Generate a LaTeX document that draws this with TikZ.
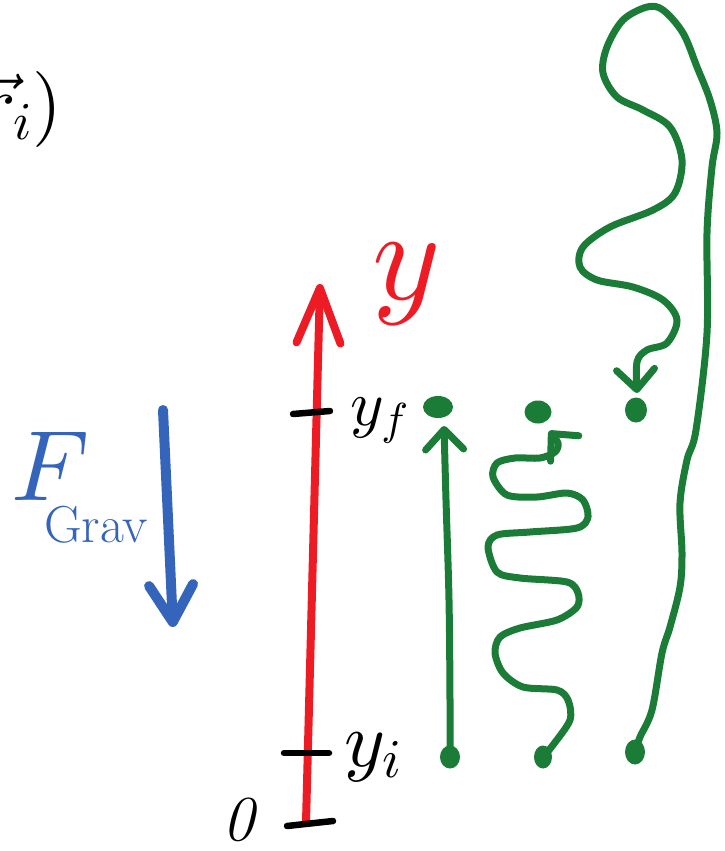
\documentclass[tikz,border=0pt]{standalone}
\DeclareFontShape{OML}{cmm}{m}{it}{<->cmmi10}{}
\DeclareFontShape{OMS}{cmsy}{m}{n}{<->cmsy10}{}
\DeclareFontFamily{OT1}{cmr}{\hyphenchar\font45 }
\DeclareFontShape{OT1}{cmr}{m}{n}{<->cmr10}{}
\usetikzlibrary{arrows.meta,shapes.geometric}
\definecolor{axred}{RGB}{237,28,36}
\definecolor{gblue}{RGB}{52,101,186}
\definecolor{pgreen}{RGB}{27,124,55}
\begin{document}
\begin{tikzpicture}[x=1pt,y=-1pt,
  hand/.style={line cap=round,line join=round},
  redaxis/.style={hand,axred,line width=8pt,-{Straight Barb[length=55pt,width=44pt,round]}},
  gravarrow/.style={hand,gblue,line width=10pt,-{Straight Barb[length=37pt,width=44pt,round]}},
  tickmark/.style={hand,black,line width=6.5pt},
  gpath/.style={hand,pgreen,line width=7pt,-{Straight Barb[length=20pt,width=38pt,round]}},
  gdot/.style={ellipse,fill=pgreen,inner sep=0pt},
  lbl/.style={inner sep=0pt,outer sep=0pt}]
\useasboundingbox (0,0) rectangle (724,851);

% partial formula at top left
\node[lbl,anchor=base east] (formula) at (62,128) {\fontsize{76}{80}\selectfont$\vec{r}_i)$};

% red y axis
\coordinate (ax0) at (306,822);
\coordinate (axtop) at (320,284);
\draw[redaxis] (ax0) -- (axtop);
\node[lbl,anchor=base west,text=axred] (ylab) at (372,299) {\fontsize{130}{130}\selectfont$y$};

% ticks
\coordinate (tf1) at (293,414); \coordinate (tf2) at (330,411);
\coordinate (ti1) at (284,753); \coordinate (ti2) at (329,753);
\coordinate (t01) at (287,826); \coordinate (t02) at (333,821);
\draw[tickmark] (tf1) -- (tf2);
\draw[tickmark] (ti1) -- (ti2);
\draw[tickmark] (t01) -- (t02);
\node[lbl,anchor=base west] (yf) at (350,425) {\fontsize{64}{64}\selectfont$y_f$};
\node[lbl,anchor=base west] (yi) at (344,766) {\fontsize{78}{78}\selectfont$y_i$};
\node[lbl,anchor=base west] (zero) at (222,840) {\fontsize{64}{64}\selectfont\textit{0}};

% gravity
\coordinate (g0) at (163,410);
\coordinate (g1) at (173,627);
\draw[gravarrow] (g0) -- (g1);
\node[lbl,anchor=north west,text=gblue] (fgrav) at (12,432)
  {\fontsize{100}{100}\selectfont$F$\kern-46pt\raisebox{-42pt}{\fontsize{52}{52}\selectfont Grav}};

% green paths
\node[gdot,minimum width=30pt,minimum height=22pt] (t1) at (438,407) {};
\node[gdot,minimum width=20pt,minimum height=23pt] (b1) at (450,757) {};
\node[gdot,minimum width=27pt,minimum height=23pt] (t2) at (538,412) {};
\node[gdot,minimum width=18pt,minimum height=23pt] (b2) at (543,757) {};
\node[gdot,minimum width=22pt,minimum height=25pt] (t3) at (636,410) {};
\node[gdot,minimum width=20pt,minimum height=25pt] (b3) at (635,752) {};

\draw[gpath] plot[smooth,tension=0.6] coordinates {(b1.center) (450,700) (449,600) (446,500) (444,426)};

\draw[gpath] plot[smooth,tension=0.5] coordinates {(b2.center) (553,745) (570,720) (568,700) (557,690) (523,687) (503,673) (495,653) (500,637) (520,628) (557,620) (577,607) (578,593) (567,582) (520,578) (497,572) (488,547) (497,535) (530,532) (577,528) (588,517) (583,500) (567,493) (537,497) (507,495) (493,477) (497,463) (515,458) (540,458) (555,452) (558,443) (549,431)};

\draw[gpath] plot[smooth,tension=0.55] coordinates {(b3.center) (640,737) (652,710) (662,653) (670,627) (680,587) (682,553) (680,503) (687,460) (696,430) (707,333) (707,233) (712,167) (717,133) (710,100) (697,67) (683,33) (663,10) (647,7) (623,20) (607,47) (603,73) (617,97) (643,110) (670,127) (682,160) (675,193) (653,210) (610,227) (583,247) (580,267) (597,280) (633,287) (663,300) (677,320) (667,343) (647,350) (637,362) (637,393)};
\end{tikzpicture}
\end{document}
